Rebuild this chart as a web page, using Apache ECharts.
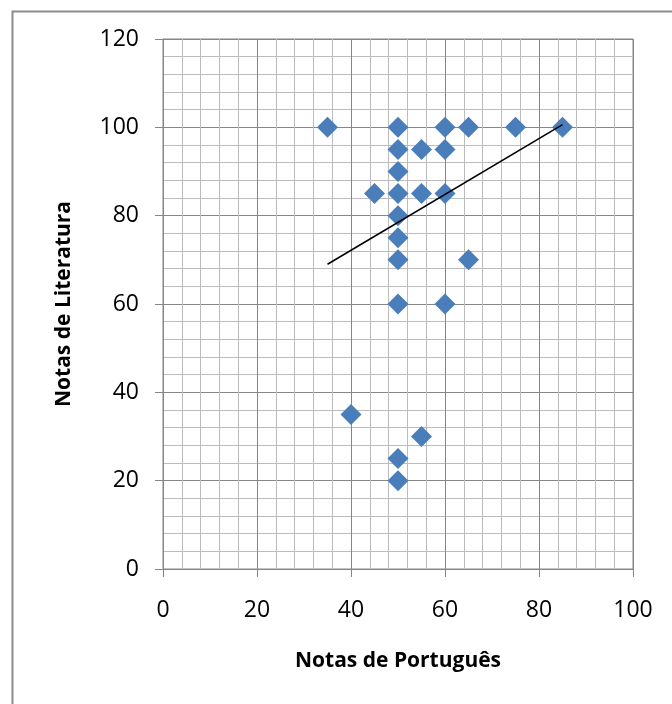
<!DOCTYPE html>
<html>
<head>
<meta charset="utf-8">
<script src="https://cdn.jsdelivr.net/npm/echarts@6/dist/echarts.min.js"></script>
<style>
  html, body { margin: 0; padding: 0; background: #ffffff; }
  #chart { width: 672px; height: 704px; }
</style>
</head>
<body>
<div id="chart"></div>
<script>
// Notas de Português (x) vs Notas de Literatura (y)
const notasPortugues = [35, 50, 60, 65, 75, 85, 50, 55, 60, 50, 45, 50, 55, 60, 50, 50, 50, 65, 50, 60, 40, 55, 50, 50];
const notasLiteratura = [100, 100, 100, 100, 100, 100, 95, 95, 95, 90, 85, 85, 85, 85, 80, 75, 70, 70, 60, 60, 35, 30, 25, 20];

// Linear trend line endpoints (x, y)
const trendX = [35, 85];
const trendY = [69, 100.6];

const xTitle = 'Notas de Português';
const yTitle = 'Notas de Literatura';

const pontos = notasPortugues.map((x, i) => [x, notasLiteratura[i]]);
const tendencia = trendX.map((x, i) => [x, trendY[i]]);

const fontFamily = '"Open Sans", "Liberation Sans", sans-serif';
const majorColor = '#868686';
const minorColor = '#bcbcbc';

const chart = echarts.init(document.getElementById('chart'), null, { renderer: 'canvas' });

chart.setOption({
  backgroundColor: '#ffffff',
  animation: false,
  graphic: [{
    type: 'rect',
    left: 10,
    top: 9,
    shape: { width: 800, height: 800 },
    style: { fill: 'none', stroke: '#8c8c8c', lineWidth: 2 },
    silent: true
  }],
  grid: {
    left: 163,
    right: 39,
    top: 39,
    bottom: 135,
    show: true,
    borderColor: majorColor,
    borderWidth: 1,
    backgroundColor: 'transparent'
  },
  xAxis: {
    type: 'value',
    min: 0,
    max: 100,
    interval: 20,
    name: xTitle,
    nameLocation: 'middle',
    nameGap: 82,
    nameTextStyle: { fontFamily, fontSize: 21, fontWeight: 'bold', color: '#000' },
    axisLine: { show: true, onZero: false, lineStyle: { color: majorColor, width: 1 } },
    axisTick: { show: true, length: 8, lineStyle: { color: majorColor } },
    axisLabel: { fontFamily, fontSize: 23, color: '#000', margin: 30 },
    splitLine: { show: true, lineStyle: { color: majorColor, width: 1 } },
    minorTick: { show: false, splitNumber: 5 },
    minorSplitLine: { show: true, lineStyle: { color: minorColor, width: 1 } }
  },
  yAxis: {
    type: 'value',
    min: 0,
    max: 120,
    interval: 20,
    name: yTitle,
    nameLocation: 'middle',
    nameRotate: 90,
    nameGap: 88,
    nameTextStyle: { fontFamily, fontSize: 21, fontWeight: 'bold', color: '#000' },
    axisLine: { show: true, onZero: false, lineStyle: { color: majorColor, width: 1 } },
    axisTick: { show: true, length: 8, lineStyle: { color: majorColor } },
    axisLabel: { fontFamily, fontSize: 23, color: '#000', margin: 24 },
    splitLine: { show: true, lineStyle: { color: majorColor, width: 1 } },
    minorTick: { show: false, splitNumber: 5 },
    minorSplitLine: { show: true, lineStyle: { color: minorColor, width: 1 } }
  },
  series: [
    {
      type: 'scatter',
      data: pontos,
      symbol: 'diamond',
      symbolSize: 21,
      itemStyle: { color: '#4a7ebb', opacity: 1 },
      z: 3
    },
    {
      type: 'line',
      data: tendencia,
      showSymbol: false,
      symbol: 'none',
      lineStyle: { color: '#000000', width: 1.5 },
      z: 4
    }
  ]
});
</script>
</body>
</html>
